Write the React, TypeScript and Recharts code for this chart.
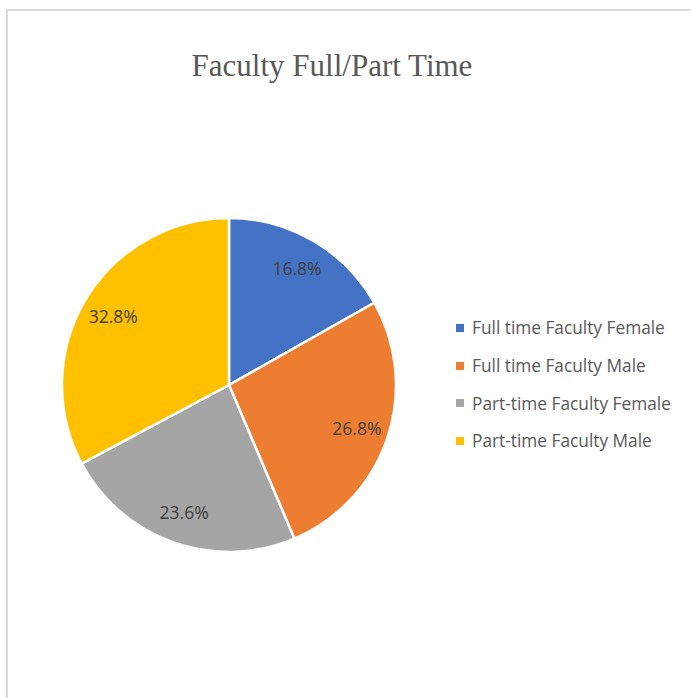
import React from 'react';
import { PieChart, Pie, Cell, Legend } from 'recharts';

const categories = [
  'Full time Faculty Female',
  'Full time Faculty Male',
  'Part-time Faculty Female',
  'Part-time Faculty Male',
];
const values = [16.8, 26.8, 23.6, 32.8];
const colors = ['#4472C4', '#ED7D31', '#A5A5A5', '#FFC000'];

const data = categories.map((name, i) => ({ name, value: values[i] }));

const RAD = Math.PI / 180;

const renderLabel = (props: any) => {
  const { cx, cy, midAngle, value } = props;
  const r = 135;
  const x = cx + r * Math.cos(-midAngle * RAD);
  const y = cy + r * Math.sin(-midAngle * RAD);
  return (
    <text
      x={x}
      y={y}
      fill="#404040"
      textAnchor="middle"
      dominantBaseline="central"
      fontFamily="'Open Sans', sans-serif"
      fontSize={17.5}
    >
      {value.toFixed(1)}%
    </text>
  );
};

const renderLegend = () => (
  <div style={{ fontFamily: "'Open Sans', sans-serif", fontSize: 17.3, color: '#595959' }}>
    {categories.map((c, i) => (
      <div key={c} style={{ display: 'flex', alignItems: 'center', height: 37.7 }}>
        <span
          style={{
            display: 'inline-block',
            width: 8,
            height: 8,
            background: colors[i],
            marginRight: 8,
          }}
        />
        <span>{c}</span>
      </div>
    ))}
  </div>
);

export default function App() {
  return (
    <div style={{ position: 'absolute', left: 0, top: 0, width: 691, height: 698, overflow: 'hidden', background: '#fff' }}>
      <div
        style={{
          position: 'absolute',
          left: 6,
          top: 9,
          width: 720,
          height: 720,
          border: '2px solid #dadada',
          boxSizing: 'border-box',
        }}
      />
      <div
        style={{
          position: 'absolute',
          left: 0,
          top: 48,
          width: 664,
          textAlign: 'center',
          fontFamily: "'Liberation Serif', 'Times New Roman', serif",
          fontSize: 31,
          lineHeight: '36px',
          color: '#595959',
        }}
      >
        Faculty Full/Part Time
      </div>
      <div style={{ position: 'absolute', left: 0, top: 0 }}>
        <PieChart width={691} height={698} margin={{ top: 0, right: 0, bottom: 0, left: 0 }}>
          <Pie
            data={data}
            dataKey="value"
            nameKey="name"
            cx={229}
            cy={385}
            outerRadius={167}
            startAngle={90}
            endAngle={-270}
            stroke="#ffffff"
            strokeWidth={2.5}
            label={renderLabel}
            labelLine={false}
            isAnimationActive={false}
          >
            {data.map((d, i) => (
              <Cell key={d.name} fill={colors[i]} />
            ))}
          </Pie>
          <Legend
            layout="vertical"
            align="right"
            verticalAlign="top"
            content={renderLegend}
            wrapperStyle={{ left: 456, top: 309, width: 234 }}
          />
        </PieChart>
      </div>
    </div>
  );
}
